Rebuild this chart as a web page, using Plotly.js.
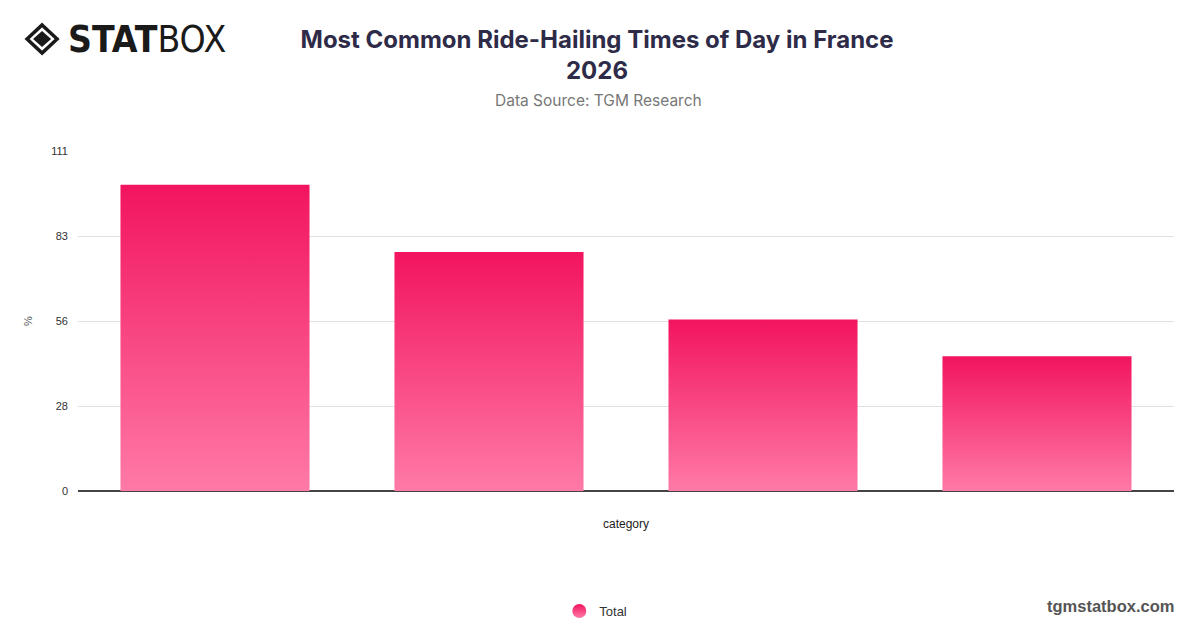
<!DOCTYPE html>
<html>
<head>
<meta charset="utf-8">
<script src="https://cdn.plot.ly/plotly-3.0.1.min.js"></script>
<style>
  html, body { margin: 0; padding: 0; background: #fff; }
  #chart { width: 1200px; height: 628px; }
</style>
</head>
<body>
<div id="chart"></div>
<script>
// values
const categories = ["Evening", "Afternoon", "Morning", "Night"];
const totals = [100, 78, 56, 44];
const tickVals = [0, 27.75, 55.5, 83.25, 111];
const tickText = ["0", "28", "56", "83", "111"];

const chart = document.getElementById("chart");

const PINK_TOP = "#f2145f";
const PINK_BOTTOM = "#ff7aa6";

const data = [
  {
    type: "bar",
    x: categories,
    y: totals,
    name: "Total",
    showlegend: false,
    hoverinfo: "none",
    marker: { color: PINK_TOP, line: { width: 0 } },
  },
  {
    // legend entry only (circle with gradient like the original)
    type: "scatter",
    mode: "markers",
    x: [null],
    y: [null],
    name: "Total",
    hoverinfo: "none",
    marker: {
      symbol: "circle",
      size: 14,
      color: PINK_TOP,
      gradient: { type: "vertical", color: PINK_BOTTOM },
    },
  },
];

const layout = {
  width: 1200,
  height: 628,
  margin: { t: 151, b: 137, l: 78, r: 26 },
  paper_bgcolor: "#fff",
  plot_bgcolor: "#fff",
  font: { family: "Inter, 'Open Sans', sans-serif", color: "#333" },
  title: {
    text: "<b>Most Common Ride-Hailing Times of Day in France<br>2026</b>",
    x: 0.4975,
    xanchor: "center",
    y: 0.924,
    yanchor: "top",
    font: { size: 24, color: "#2e2b48", family: "Inter, sans-serif" },
  },
  bargap: 0.31,
  xaxis: {
    type: "category",
    showticklabels: false,
    ticks: "",
    showgrid: false,
    zeroline: false,
    showline: false,
    title: {
      text: "category",
      standoff: 28,
      font: { size: 12, color: "#222", family: "'Liberation Sans', Arial, sans-serif" },
    },
  },
  yaxis: {
    range: [0, 111],
    tickvals: tickVals,
    ticktext: tickText,
    tickfont: { size: 11, color: "#333", family: "'Liberation Sans', Arial, sans-serif" },
    gridcolor: "#e1e1e1",
    gridwidth: 1,
    zeroline: true,
    zerolinecolor: "#444",
    zerolinewidth: 1.5,
    showline: false,
    ticklabelstandoff: 9,
    title: {
      text: "%",
      standoff: 16,
      font: { size: 11, color: "#555", family: "'Liberation Sans', Arial, sans-serif" },
    },
  },
  showlegend: true,
  legend: {
    orientation: "h",
    xref: "container",
    yref: "container",
    x: 0.4965,
    xanchor: "center",
    y: 0.027,
    yanchor: "middle",
    font: { size: 13, color: "#333", family: "'Liberation Sans', Arial, sans-serif" },
  },
  annotations: [
    {
      xref: "paper",
      yref: "paper",
      x: 0.4745,
      y: 1.0,
      yshift: 62,
      showarrow: false,
      text: "Data Source: TGM Research",
      font: { size: 15.5, color: "#777", family: "Inter, sans-serif" },
    },
    {
      xref: "paper",
      yref: "paper",
      x: 1.002,
      xanchor: "right",
      y: -0.338,
      yanchor: "middle",
      showarrow: false,
      text: "<b>tgmstatbox.com</b>",
      font: { size: 16.5, color: "#555", family: "'Liberation Sans', Arial, sans-serif" },
    },
    {
      xref: "paper",
      yref: "paper",
      x: -0.011,
      xanchor: "left",
      y: 1.329,
      yanchor: "middle",
      showarrow: false,
      text: "<b>STAT</b>BOX",
      font: { size: 37, color: "#1a1a1a", family: "'DejaVu Sans Condensed', 'DejaVu Sans', sans-serif" },
    },
  ],
  shapes: [
    // logo diamond
    {
      type: "path",
      xref: "paper",
      yref: "paper",
      xsizemode: "pixel",
      ysizemode: "pixel",
      xanchor: -0.02,
      yanchor: 1,
      path: "M -14 126 L 1 112 L -14 98 L -29 112 Z",
      fillcolor: "rgba(0,0,0,0)",
      line: { color: "#1a1a1a", width: 3.5 },
    },
    {
      type: "path",
      xref: "paper",
      yref: "paper",
      xsizemode: "pixel",
      ysizemode: "pixel",
      xanchor: -0.02,
      yanchor: 1,
      path: "M -14 120 L -5 112 L -14 104 L -23 112 Z",
      fillcolor: "#1a1a1a",
      line: { width: 0 },
    },
  ],
};

function applyGradient() {
  const svg = chart.querySelector(".main-svg");
  if (!svg) return;
  let defs = svg.querySelector("defs");
  if (!svg.querySelector("#barGrad")) {
    const ns = "http://www.w3.org/2000/svg";
    const grad = document.createElementNS(ns, "linearGradient");
    grad.setAttribute("id", "barGrad");
    grad.setAttribute("x1", "0");
    grad.setAttribute("y1", "0");
    grad.setAttribute("x2", "0");
    grad.setAttribute("y2", "1");
    [[0, PINK_TOP], [1, PINK_BOTTOM]].forEach(([o, c]) => {
      const s = document.createElementNS(ns, "stop");
      s.setAttribute("offset", o);
      s.setAttribute("stop-color", c);
      grad.appendChild(s);
    });
    defs.appendChild(grad);
  }
  chart.querySelectorAll(".bars .point path").forEach((p) => {
    p.style.fill = "url(#barGrad)";
  });
}

Plotly.newPlot(chart, data, layout, { staticPlot: true }).then(() => {
  applyGradient();
  chart.on("plotly_afterplot", applyGradient);
});
</script>
</body>
</html>
